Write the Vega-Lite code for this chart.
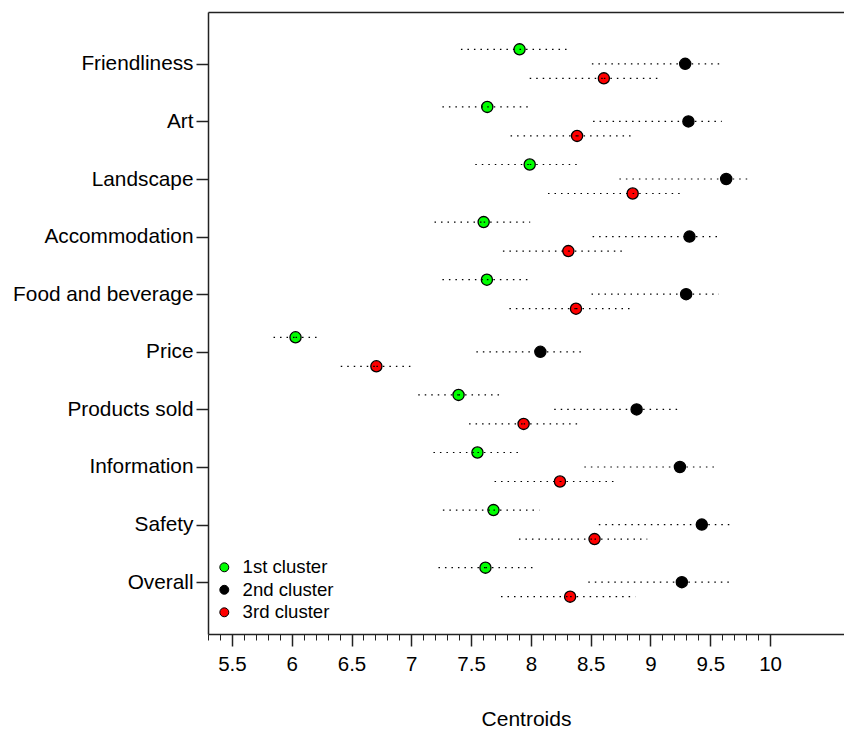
{
  "$schema": "https://vega.github.io/schema/vega-lite/v6.json",
  "autosize": "none",
  "width": 636,
  "height": 622,
  "padding": {"left": 208, "top": 12, "right": 0, "bottom": 97},
  "background": "white",
  "config": {
    "view": {"stroke": null},
    "font": "Liberation Sans",
    "axis": {"labelFont": "Liberation Sans", "titleFont": "Liberation Sans", "labelColor": "black", "titleColor": "black", "domainColor": "#222222", "tickColor": "#222222", "grid": false},
    "legend": {"labelFont": "Liberation Sans"}
  },
  "data": {
    "values": [
      {"attribute": "Friendliness", "cluster": "1st cluster", "centroid": 7.905, "lo": 7.415, "hi": 8.33},
      {"attribute": "Friendliness", "cluster": "2nd cluster", "centroid": 9.29, "lo": 8.51, "hi": 9.575},
      {"attribute": "Friendliness", "cluster": "3rd cluster", "centroid": 8.61, "lo": 7.99, "hi": 9.06},
      {"attribute": "Art", "cluster": "1st cluster", "centroid": 7.635, "lo": 7.26, "hi": 8.01},
      {"attribute": "Art", "cluster": "2nd cluster", "centroid": 9.317, "lo": 8.52, "hi": 9.596},
      {"attribute": "Art", "cluster": "3rd cluster", "centroid": 8.386, "lo": 7.83, "hi": 8.836},
      {"attribute": "Landscape", "cluster": "1st cluster", "centroid": 7.99, "lo": 7.535, "hi": 8.395},
      {"attribute": "Landscape", "cluster": "2nd cluster", "centroid": 9.633, "lo": 8.74, "hi": 9.81},
      {"attribute": "Landscape", "cluster": "3rd cluster", "centroid": 8.851, "lo": 8.143, "hi": 9.26},
      {"attribute": "Accommodation", "cluster": "1st cluster", "centroid": 7.605, "lo": 7.194, "hi": 7.994},
      {"attribute": "Accommodation", "cluster": "2nd cluster", "centroid": 9.326, "lo": 8.516, "hi": 9.59},
      {"attribute": "Accommodation", "cluster": "3rd cluster", "centroid": 8.313, "lo": 7.766, "hi": 8.778},
      {"attribute": "Food and beverage", "cluster": "1st cluster", "centroid": 7.632, "lo": 7.26, "hi": 8.0},
      {"attribute": "Food and beverage", "cluster": "2nd cluster", "centroid": 9.298, "lo": 8.507, "hi": 9.572},
      {"attribute": "Food and beverage", "cluster": "3rd cluster", "centroid": 8.377, "lo": 7.82, "hi": 8.836},
      {"attribute": "Price", "cluster": "1st cluster", "centroid": 6.032, "lo": 5.848, "hi": 6.221},
      {"attribute": "Price", "cluster": "2nd cluster", "centroid": 8.079, "lo": 7.544, "hi": 8.45},
      {"attribute": "Price", "cluster": "3rd cluster", "centroid": 6.708, "lo": 6.41, "hi": 7.0},
      {"attribute": "Products sold", "cluster": "1st cluster", "centroid": 7.395, "lo": 7.058, "hi": 7.75},
      {"attribute": "Products sold", "cluster": "2nd cluster", "centroid": 8.884, "lo": 8.195, "hi": 9.26},
      {"attribute": "Products sold", "cluster": "3rd cluster", "centroid": 7.939, "lo": 7.483, "hi": 8.395},
      {"attribute": "Information", "cluster": "1st cluster", "centroid": 7.553, "lo": 7.185, "hi": 7.93},
      {"attribute": "Information", "cluster": "2nd cluster", "centroid": 9.246, "lo": 8.447, "hi": 9.566},
      {"attribute": "Information", "cluster": "3rd cluster", "centroid": 8.243, "lo": 7.696, "hi": 8.705},
      {"attribute": "Safety", "cluster": "1st cluster", "centroid": 7.687, "lo": 7.264, "hi": 8.07},
      {"attribute": "Safety", "cluster": "2nd cluster", "centroid": 9.429, "lo": 8.568, "hi": 9.694},
      {"attribute": "Safety", "cluster": "3rd cluster", "centroid": 8.532, "lo": 7.9, "hi": 8.973},
      {"attribute": "Overall", "cluster": "1st cluster", "centroid": 7.62, "lo": 7.227, "hi": 8.03},
      {"attribute": "Overall", "cluster": "2nd cluster", "centroid": 9.262, "lo": 8.48, "hi": 9.657},
      {"attribute": "Overall", "cluster": "3rd cluster", "centroid": 8.328, "lo": 7.75, "hi": 8.873}
    ]
  },
  "encoding": {
    "y": {
      "field": "attribute", "type": "nominal",
      "sort": ["Friendliness", "Art", "Landscape", "Accommodation", "Food and beverage", "Price", "Products sold", "Information", "Safety", "Overall"],
      "scale": {"type": "point", "padding": 0.9},
      "axis": {"title": null, "labelFontSize": 20.8, "labelLimit": 400, "tickSize": 12, "tickWidth": 1.5, "domainWidth": 1.5, "labelPadding": 3}
    },
    "yOffset": {
      "field": "cluster", "type": "nominal",
      "scale": {"type": "point", "range": [-14.5, 14.5], "padding": 0}
    }
  },
  "resolve": {"axis": {"x": "independent"}},
  "layer": [
    {
      "mark": {"type": "point", "filled": true, "size": 125, "stroke": "black", "strokeWidth": 1.3, "opacity": 1},
      "encoding": {
        "x": {
          "field": "centroid", "type": "quantitative",
          "scale": {"domain": [5.3, 10.618], "nice": false, "zero": false},
          "axis": {"orient": "bottom", "values": [5.5, 6, 6.5, 7, 7.5, 8, 8.5, 9, 9.5, 10], "format": "~g", "labelFontSize": 20.5, "tickSize": 12, "tickWidth": 1.5, "domainWidth": 1.5, "labelPadding": 8, "title": "Centroids", "titleFontSize": 21, "titleFontWeight": "normal", "titlePadding": 34, "labelFlush": false}
        },
        "fill": {
          "field": "cluster", "type": "nominal",
          "scale": {"domain": ["1st cluster", "2nd cluster", "3rd cluster"], "range": ["#00ff00", "#000000", "#ff0000"]},
          "legend": {"title": null, "orient": "none", "legendX": 7, "legendY": 546, "symbolType": "circle", "symbolSize": 80, "symbolStrokeColor": "black", "symbolStrokeWidth": 1, "labelFontSize": 18.6, "labelColor": "black", "labelOffset": 9, "rowPadding": 3.5, "padding": 0}
        }
      }
    },
    {
      "mark": {"type": "rule", "color": "black", "strokeWidth": 1.2, "strokeDash": [1.5, 5]},
      "encoding": {
        "x": {
          "field": "lo", "type": "quantitative",
          "axis": {"orient": "bottom", "values": [5.3, 5.4, 5.5, 5.6, 5.7, 5.8, 5.9, 6.0, 6.1, 6.2, 6.3, 6.4, 6.5, 6.6, 6.7, 6.8, 6.9, 7.0, 7.1, 7.2, 7.3, 7.4, 7.5, 7.6, 7.7, 7.8, 7.9, 8.0, 8.1, 8.2, 8.3, 8.4, 8.5, 8.6, 8.7, 8.8, 8.9, 9.0, 9.1, 9.2, 9.3, 9.4, 9.5, 9.6, 9.7, 9.8, 9.9, 10.0], "labels": false, "domain": false, "tickSize": 6, "tickWidth": 1, "title": null}
        },
        "x2": {"field": "centroid"}
      }
    },
    {
      "mark": {"type": "rule", "color": "black", "strokeWidth": 1.2, "strokeDash": [1.5, 5]},
      "encoding": {
        "x": {
          "field": "centroid", "type": "quantitative",
          "axis": {"orient": "top", "labels": false, "ticks": false, "domain": true, "domainWidth": 1.5, "title": null}
        },
        "x2": {"field": "hi"}
      }
    }
  ]
}
